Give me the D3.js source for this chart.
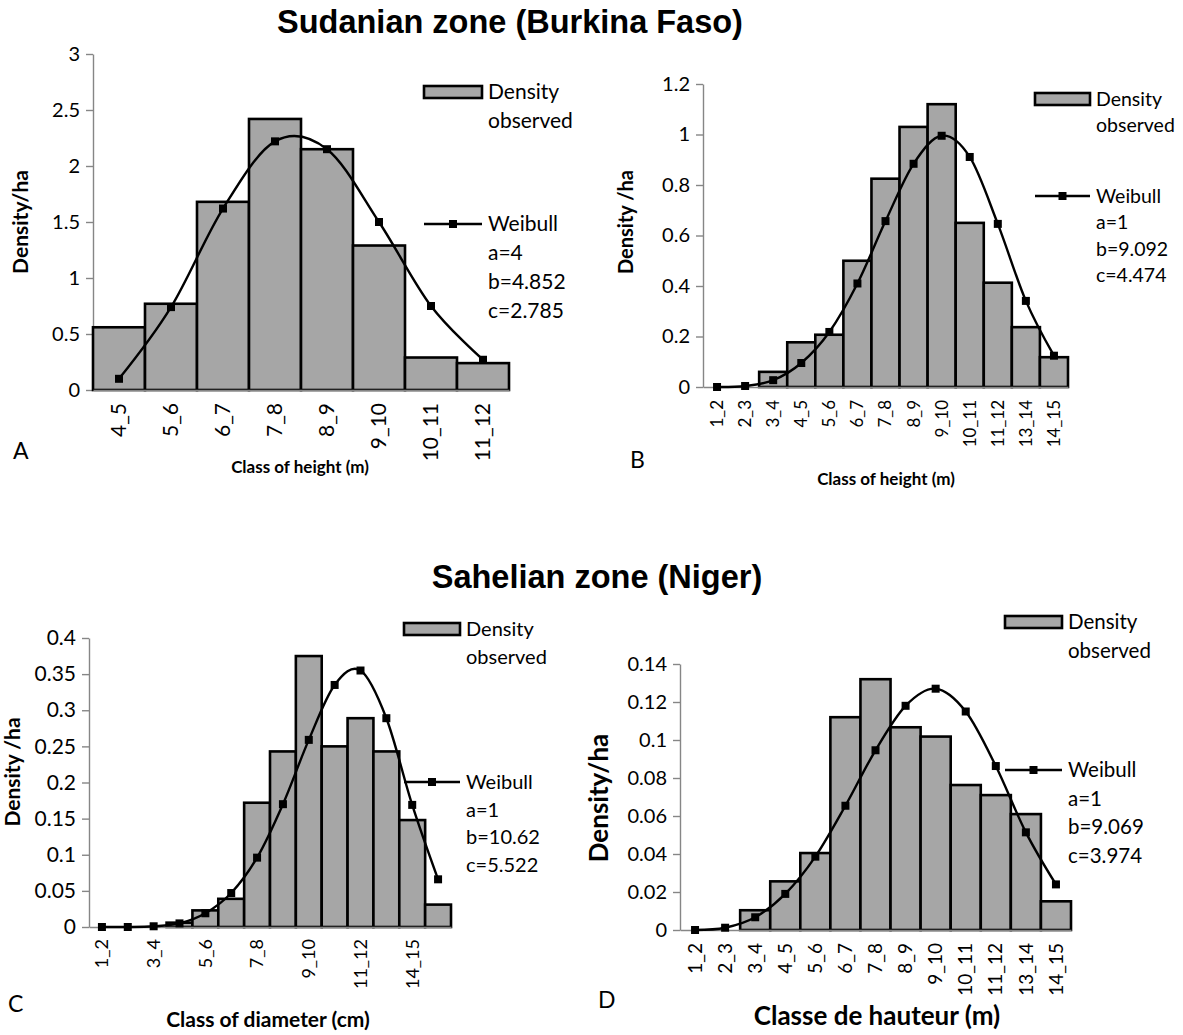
<!DOCTYPE html>
<html>
<head>
<meta charset="utf-8">
<script src="https://cdn.jsdelivr.net/npm/d3@7"></script>
<style>
  body { margin: 0; background: #fff; }
  svg text { font-family: Lato, "Open Sans", sans-serif; fill: #000; }
</style>
</head>
<body>
<svg id="fig" width="1183" height="1035"></svg>
<script>
// ---- data ----
var classesA = ["4_5", "5_6", "6_7", "7_8", "8_9", "9_10", "10_11", "11_12"];
var observedA = [0.56, 0.77, 1.68, 2.42, 2.15, 1.29, 0.29, 0.24];
var weibullA = [0.10, 0.74, 1.62, 2.22, 2.15, 1.50, 0.75, 0.27];
var ticksA = [0, 0.5, 1, 1.5, 2, 2.5, 3];
var paramsA = ["a=4", "b=4.852", "c=2.785"];

var classesB = ["1_2", "2_3", "3_4", "4_5", "5_6", "6_7", "7_8", "8_9", "9_10", "10_11", "11_12", "13_14", "14_15"];
var observedB = [0, 0, 0.06, 0.177, 0.207, 0.50, 0.825, 1.03, 1.12, 0.65, 0.413, 0.237, 0.118];
var weibullB = [0, 0.004, 0.027, 0.095, 0.218, 0.41, 0.657, 0.884, 0.995, 0.911, 0.646, 0.341, 0.124];
var ticksB = [0, 0.2, 0.4, 0.6, 0.8, 1, 1.2];
var paramsB = ["a=1", "b=9.092", "c=4.474"];

var classesC = ["1_2", "2_3", "3_4", "4_5", "5_6", "6_7", "7_8", "8_9", "9_10", "10_11", "11_12", "13_14", "14_15", "15_16"];
var observedC = [0, 0, 0, 0.006, 0.023, 0.039, 0.172, 0.243, 0.375, 0.25, 0.289, 0.243, 0.148, 0.031];
var weibullC = [0, 0, 0.001, 0.005, 0.019, 0.047, 0.096, 0.17, 0.259, 0.335, 0.355, 0.289, 0.169, 0.066];
var ticksC = [0, 0.05, 0.1, 0.15, 0.2, 0.25, 0.3, 0.35, 0.4];
var paramsC = ["a=1", "b=10.62", "c=5.522"];

var classesD = ["1_2", "2_3", "3_4", "4_5", "5_6", "6_7", "7_8", "8_9", "9_10", "10_11", "11_12", "13_14", "14_15"];
var observedD = [0, 0, 0.0104, 0.0256, 0.0405, 0.112, 0.132, 0.1067, 0.1018, 0.0763, 0.071, 0.061, 0.0151];
var weibullD = [0, 0.0012, 0.0067, 0.019, 0.0386, 0.0654, 0.0946, 0.118, 0.127, 0.115, 0.0863, 0.0514, 0.024];
var ticksD = [0, 0.02, 0.04, 0.06, 0.08, 0.1, 0.12, 0.14];
var paramsD = ["a=1", "b=9.069", "c=3.974"];

var svg = d3.select("#fig");
var barFill = "#a6a6a6", axisGrey = "#868686";

// zone titles
svg.append("text").attr("x", 510).attr("y", 33).attr("text-anchor", "middle")
  .style("font-family", "'Liberation Sans', Arial, sans-serif")
  .style("font-weight", "bold").style("font-size", "32.5px")
  .text("Sudanian zone (Burkina Faso)");
svg.append("text").attr("x", 597).attr("y", 588).attr("text-anchor", "middle")
  .style("font-family", "'Liberation Sans', Arial, sans-serif")
  .style("font-weight", "bold").style("font-size", "32.5px")
  .text("Sahelian zone (Niger)");

function drawPanel(p) {
  var g = svg.append("g");
  var x = d3.scaleBand().domain(p.classes).range([p.left, p.right]).padding(0);
  var y = d3.scaleLinear().domain([0, p.ticks[p.ticks.length - 1]]).range([p.bottom, p.top]);
  var bw = x.bandwidth();
  var rows = p.classes.map(function(c, i) { return { c: c, obs: p.observed[i], w: p.weibull[i] }; });

  // y axis
  var ya = g.append("g").attr("transform", "translate(" + p.left + ",0)")
    .call(d3.axisLeft(y).tickValues(p.ticks).tickSize(7).tickSizeOuter(0).tickPadding(6)
      .tickFormat(function(d) { return String(d); }));
  ya.selectAll("path, line").attr("stroke", axisGrey).attr("stroke-width", 1.4);
  ya.selectAll("text").style("font-size", p.tickFont + "px");

  // bars
  g.selectAll("rect.bar").data(rows.filter(function(d) { return d.obs > 0; }))
    .enter().append("rect").attr("class", "bar")
    .attr("x", function(d) { return x(d.c); })
    .attr("y", function(d) { return y(d.obs); })
    .attr("width", bw)
    .attr("height", function(d) { return y(0) - y(d.obs); })
    .attr("fill", barFill).attr("stroke", "#000").attr("stroke-width", 2.6);

  // x axis with rotated class labels
  var shown = p.classes.filter(function(c, i) { return i % p.labelStep === 0; });
  var xa = g.append("g").attr("transform", "translate(0," + p.bottom + ")")
    .call(d3.axisBottom(x).tickValues(shown).tickSize(0).tickSizeOuter(0));
  xa.select(".domain").attr("stroke", axisGrey).attr("stroke-width", 1.4);
  xa.selectAll("text").style("font-size", p.labelFont + "px")
    .attr("transform", "rotate(-90)").attr("text-anchor", "end")
    .attr("x", -p.labelGap).attr("y", 0).attr("dy", "0.35em");

  // smoothed Weibull line
  var line = d3.line()
    .x(function(d) { return x(d.c) + bw / 2; })
    .y(function(d) { return y(d.w); })
    .curve(d3.curveCardinal.tension(0));
  g.append("path").datum(rows).attr("d", line)
    .attr("fill", "none").attr("stroke", "#000").attr("stroke-width", 2.4);
  g.selectAll("rect.mk").data(rows).enter().append("rect").attr("class", "mk")
    .attr("x", function(d) { return x(d.c) + bw / 2 - 4; })
    .attr("y", function(d) { return y(d.w) - 4; })
    .attr("width", 8).attr("height", 8).attr("fill", "#000");

  // legend
  var lg = p.legend;
  g.append("rect").attr("x", lg.x).attr("y", lg.y1 - 6).attr("width", lg.w).attr("height", 12)
    .attr("fill", barFill).attr("stroke", "#000").attr("stroke-width", 2.6);
  g.append("line").attr("x1", lg.x).attr("x2", lg.x + lg.w).attr("y1", lg.y2).attr("y2", lg.y2)
    .attr("stroke", "#000").attr("stroke-width", 2.4);
  g.append("rect").attr("x", lg.x + lg.w / 2 - 4).attr("y", lg.y2 - 4)
    .attr("width", 8).attr("height", 8).attr("fill", "#000");
  var tx = lg.x + lg.w + 6;
  ["Density", "observed"].forEach(function(t, i) {
    g.append("text").attr("x", tx).attr("y", lg.y1 + i * lg.step).attr("dy", "0.35em")
      .style("font-size", p.legendFont + "px").text(t);
  });
  ["Weibull"].concat(p.params).forEach(function(t, i) {
    g.append("text").attr("x", tx).attr("y", lg.y2 + i * lg.step).attr("dy", "0.35em")
      .style("font-size", p.legendFont + "px").text(t);
  });

  // axis titles and panel letter
  g.append("text").attr("transform", "translate(" + p.yTitle[0] + "," + p.yTitle[1] + ") rotate(-90)")
    .attr("text-anchor", "middle").attr("dy", "0.35em")
    .style("font-weight", "bold").style("font-size", p.yTitleFont + "px").text(p.yLabel);
  g.append("text").attr("x", p.xTitle[0]).attr("y", p.xTitle[1]).attr("dy", "0.35em")
    .attr("text-anchor", "middle")
    .style("font-weight", "bold").style("font-size", p.xTitleFont + "px").text(p.xLabel);
  g.append("text").attr("x", p.letter[0]).attr("y", p.letter[1])
    .style("font-size", "23px").text(p.letterText);
}

drawPanel({
  classes: classesA, observed: observedA, weibull: weibullA, ticks: ticksA, params: paramsA,
  left: 93, right: 509, top: 54, bottom: 390, labelStep: 1,
  tickFont: 20, labelFont: 21, labelGap: 13, legendFont: 21,
  legend: { x: 424, w: 58, y1: 92, y2: 224, step: 29 },
  yLabel: "Density/ha", yTitle: [21, 222], yTitleFont: 21,
  xLabel: "Class of height (m)", xTitle: [300, 467], xTitleFont: 17,
  letterText: "A", letter: [13, 459]
});
drawPanel({
  classes: classesB, observed: observedB, weibull: weibullB, ticks: ticksB, params: paramsB,
  left: 703, right: 1068, top: 84, bottom: 387, labelStep: 1,
  tickFont: 20, labelFont: 17, labelGap: 13, legendFont: 19.5,
  legend: { x: 1035, w: 55, y1: 99, y2: 196, step: 26.5 },
  yLabel: "Density /ha", yTitle: [626, 222], yTitleFont: 20,
  xLabel: "Class of height (m)", xTitle: [886, 479], xTitleFont: 17,
  letterText: "B", letter: [630, 468]
});
drawPanel({
  classes: classesC, observed: observedC, weibull: weibullC, ticks: ticksC, params: paramsC,
  left: 89, right: 451, top: 638, bottom: 927, labelStep: 2,
  tickFont: 21, labelFont: 18, labelGap: 12, legendFont: 20,
  legend: { x: 404, w: 56, y1: 629, y2: 782, step: 27.5 },
  yLabel: "Density /ha", yTitle: [13, 772], yTitleFont: 21,
  xLabel: "Class of diameter (cm)", xTitle: [268, 1020], xTitleFont: 21,
  letterText: "C", letter: [8, 1012]
});
drawPanel({
  classes: classesD, observed: observedD, weibull: weibullD, ticks: ticksD, params: paramsD,
  left: 680, right: 1071, top: 664, bottom: 930, labelStep: 1,
  tickFont: 20, labelFont: 19, labelGap: 13, legendFont: 20.5,
  legend: { x: 1005, w: 57, y1: 622, y2: 770, step: 28.5 },
  yLabel: "Density/ha", yTitle: [599, 798], yTitleFont: 26,
  xLabel: "Classe de hauteur (m)", xTitle: [877, 1016], xTitleFont: 26,
  letterText: "D", letter: [598, 1008]
});
</script>
</body>
</html>
